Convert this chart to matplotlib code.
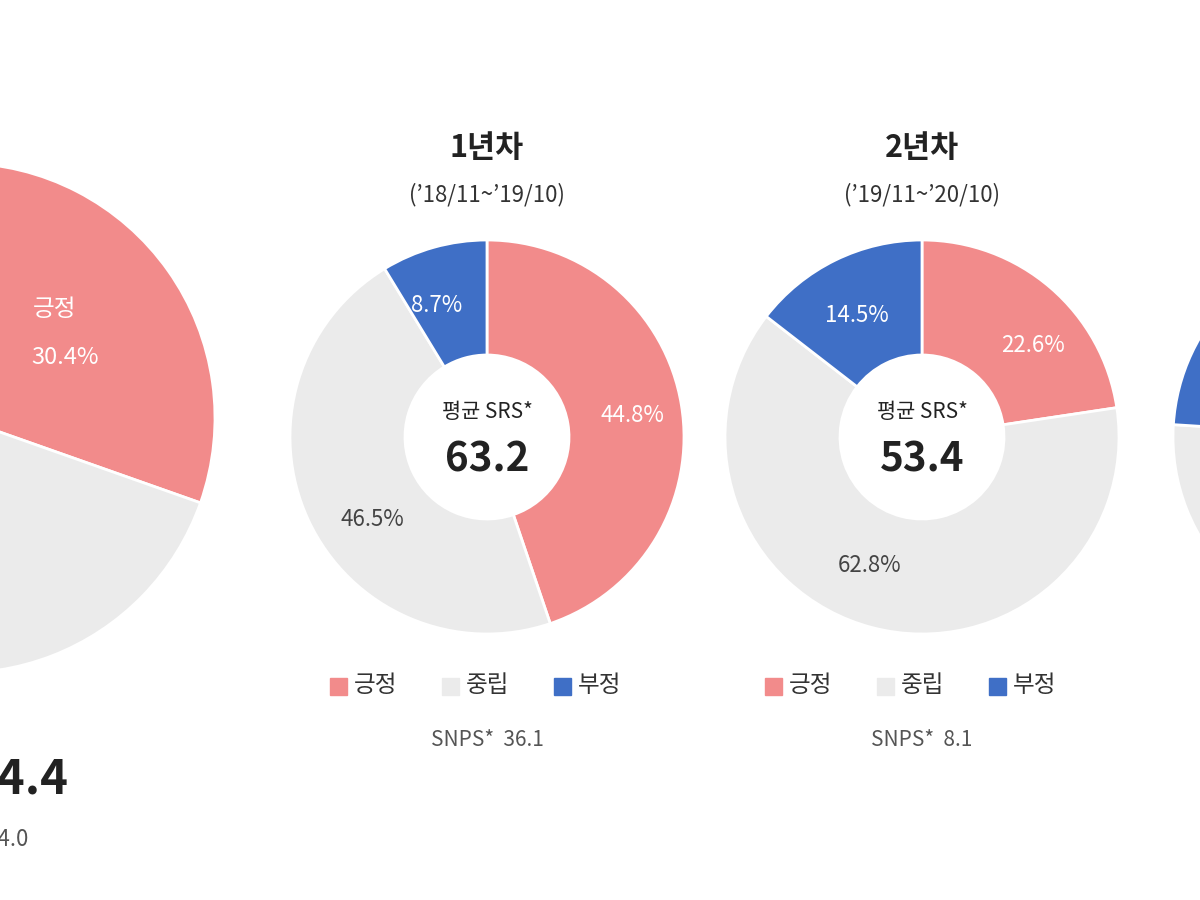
import matplotlib
matplotlib.use("Agg")
import matplotlib.pyplot as plt

plt.rcParams['font.family'] = ['Noto Sans CJK KR', 'DejaVu Sans']

categories = ["긍정", "중립", "부정"]
colors = ["#F28B8B", "#EBEBEB", "#3F6FC6"]

left_vals = [30.4, 55.0, 14.6]
y1_vals = [44.8, 46.5, 8.7]
y2_vals = [22.6, 62.8, 14.5]
right_vals = [20.0, 56.0, 24.0]

titles = ["1년차", "2년차"]
subtitles = ["(’18/11~’19/10)", "(’19/11~’20/10)"]
srs = ["63.2", "53.4"]
snps = ["36.1", "8.1"]

fig = plt.figure(figsize=(12, 9), dpi=100)
ax = fig.add_axes([0, 0, 1, 1])

def donut(vals, cx, cy, r, hole):
    ax.pie(vals, colors=colors, startangle=90, counterclock=False,
           center=(cx, -cy), radius=r, frame=True,
           wedgeprops=dict(width=r - hole, edgecolor="white", linewidth=2))

donut(left_vals, -40, 418, 255, 30)
donut(y1_vals, 487, 437, 197, 82)
donut(y2_vals, 922, 437, 197, 82)
donut(right_vals, 1370, 437, 197, 82)

ax.set_xlim(0, 1200)
ax.set_ylim(-900, 0)
ax.set_aspect('equal')
ax.axis('off')

def T(x, y, s, **kw):
    ax.text(x, -y, s, ha=kw.pop('ha', 'center'), va='center', **kw)

# left pie (cut off at the image edge, as in the reference)
T(55, 310, "긍정", color="white", fontsize=17)
T(65, 357, "30.4%", color="white", fontsize=17)
T(68, 780, "44.4", fontsize=34, fontweight="bold", color="#222222", ha="right")
T(28, 840, "14.0", fontsize=16, color="#555555", ha="right")

pies = [(487, y1_vals, [(437, 305), (632, 415), (372, 520)]),
        (922, y2_vals, [(857, 315), (1033, 345), (870, 565)])]
for i, (cx, vals, pos) in enumerate(pies):
    T(cx, 148, titles[i], fontsize=22, fontweight="bold", color="#222222")
    T(cx, 195, subtitles[i], fontsize=16, color="#333333")
    T(pos[0][0], pos[0][1], f"{vals[2]}%", color="white", fontsize=16)
    T(pos[1][0], pos[1][1], f"{vals[0]}%", color="white", fontsize=16)
    T(pos[2][0], pos[2][1], f"{vals[1]}%", color="#444444", fontsize=16)
    T(cx, 412, "평균 SRS*", fontsize=15, color="#222222")
    T(cx, 460, srs[i], fontsize=29, fontweight="bold", color="#222222")
    x0 = cx - 157
    for j, c in enumerate(categories):
        xs = x0 + j * 112
        ax.add_patch(plt.Rectangle((xs, -695), 17, 17, color=colors[j]))
        T(xs + 24, 686, c, fontsize=17, color="#333333", ha="left")
    T(cx, 740, f"SNPS*  {snps[i]}", fontsize=15, color="#555555")

fig.savefig("out.png", dpi=100)
